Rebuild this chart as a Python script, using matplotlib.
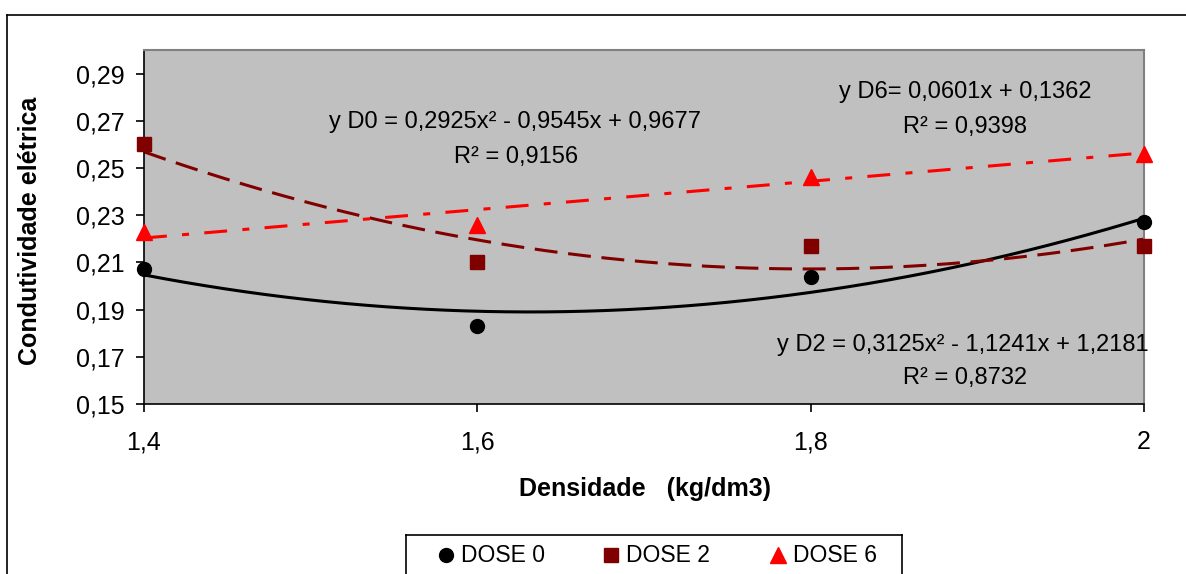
import numpy as np
import matplotlib.pyplot as plt
from matplotlib.lines import Line2D

plt.rcParams['font.family'] = ['Liberation Sans', 'DejaVu Sans']

densidade = [1.4, 1.6, 1.8, 2.0]
dose0 = [0.207, 0.183, 0.204, 0.227]
dose2 = [0.260, 0.210, 0.217, 0.217]
dose6 = [0.223, 0.226, 0.246, 0.256]

# trend line coefficients (highest power first)
coef_d0 = [0.2925, -0.9545, 0.9677]
coef_d2 = [0.3125, -1.1241, 1.2181]
coef_d6 = [0.0601, 0.1362]

yticks = [0.15, 0.17, 0.19, 0.21, 0.23, 0.25, 0.27, 0.29]
xticks = [1.4, 1.6, 1.8, 2.0]
xticklabels = ['1,4', '1,6', '1,8', '2']

W, H = 1186, 574
fig = plt.figure(figsize=(W / 100, H / 100), dpi=100)

# outer chart frame
fig.add_artist(Line2D([7 / W, 7 / W], [0, 1 - 15 / H], color='black', lw=1.2))
fig.add_artist(Line2D([7 / W, 1], [1 - 15 / H, 1 - 15 / H], color='black', lw=1.2))

ax = fig.add_axes([144 / W, (H - 404) / H, 1000 / W, 354 / H])
ax.set_facecolor('#C0C0C0')

xs = np.linspace(1.4, 2.0, 200)
ax.plot(xs, np.polyval(coef_d0, xs), color='black', lw=2.2, zorder=2)
ax.plot(xs, np.polyval(coef_d2, xs), color='#800000', lw=2.2,
        dashes=(7.5, 3.5), zorder=2)
ax.plot(xs, np.polyval(coef_d6, xs), color='#FF0000', lw=2.2,
        dashes=(7.5, 5, 2.3, 5), zorder=2)

ax.plot(densidade, dose0, 'o', color='black', ms=10, clip_on=False, zorder=3)
ax.plot(densidade, dose2, 's', color='#800000', ms=10.5, clip_on=False, zorder=3)
ax.plot(densidade, dose6, '^', color='#FF0000', ms=12, clip_on=False, zorder=3)

ax.set_xlim(1.4, 2.0)
ax.set_ylim(0.15, 0.30)
ax.set_xticks(xticks)
ax.set_xticklabels(xticklabels)
ax.set_yticks(yticks)
ax.set_yticklabels([('%.2f' % v).replace('.', ',') for v in yticks])
ax.tick_params(labelsize=18, direction='out', length=6, width=1.2, pad=8)
ax.tick_params(axis='x', pad=13)

for side in ['top', 'right']:
    ax.spines[side].set_color('#808080')
    ax.spines[side].set_linewidth(1.5)
for side in ['left', 'bottom']:
    ax.spines[side].set_color('black')
    ax.spines[side].set_linewidth(1.2)

ax.set_xlabel('Densidade   (kg/dm3)', fontsize=18, fontweight='bold')
ax.set_ylabel('Condutividade elétrica', fontsize=18, fontweight='bold')
ax.xaxis.set_label_coords(0.501, -0.207)
ax.yaxis.set_label_coords(-0.102, 0.49)

# equations of the trend lines
eq = dict(fontsize=17, ha='center', va='center')
ax.text(1.6226, 0.2694, 'y D0 = 0,2925x² - 0,9545x + 0,9677', **eq)
ax.text(1.6232, 0.2546, 'R² = 0,9156', **eq)
ax.text(1.8926, 0.2821, 'y D6= 0,0601x + 0,1362', **eq)
ax.text(1.8926, 0.2673, 'R² = 0,9398', **eq)
ax.text(1.8914, 0.1750, 'y D2 = 0,3125x² - 1,1241x + 1,2181', **eq)
ax.text(1.8926, 0.1610, 'R² = 0,8732', **eq)

# legend box, open at the bottom edge
lax = fig.add_axes([406 / W, 0, 496 / W, (H - 535) / H])
lax.set_xlim(406, 902)
lax.set_ylim(574, 535)
lax.set_xticks([])
lax.set_yticks([])
lax.spines['bottom'].set_visible(False)
for side in ['top', 'left', 'right']:
    lax.spines[side].set_linewidth(1.2)
legend_items = [('o', 'black', 10, 446, 'DOSE 0'),
                ('s', '#800000', 10.5, 611, 'DOSE 2'),
                ('^', '#FF0000', 12, 778, 'DOSE 6')]
for mk, col, ms, xm, lab in legend_items:
    lax.plot([xm], [555], mk, color=col, ms=ms)
    lax.text(xm + 15, 556, lab, fontsize=16.5, va='center', ha='left')

fig.savefig('out.png', dpi=100)
